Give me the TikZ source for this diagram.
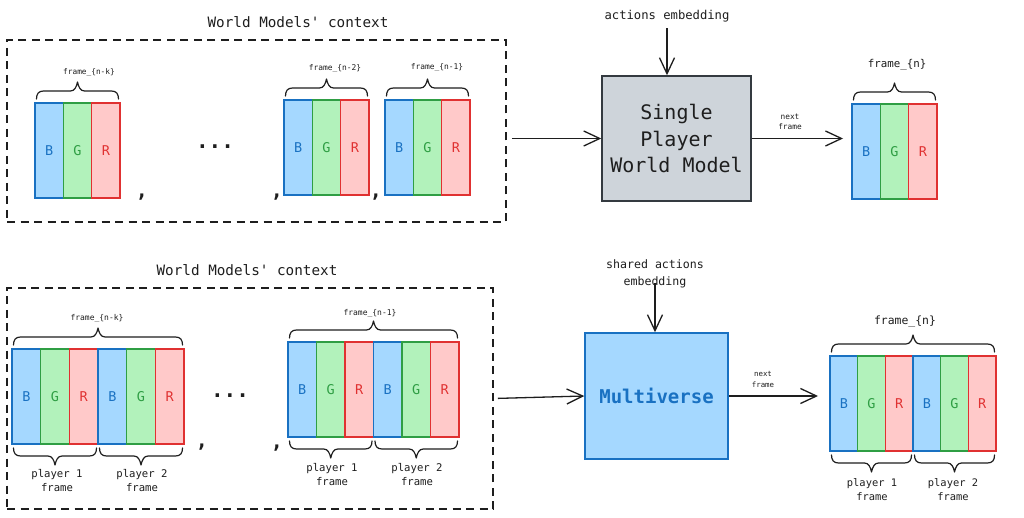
\documentclass[tikz,border=0pt]{standalone}
\usepackage{fontspec}
\setmonofont{DejaVu Sans Mono}
\usetikzlibrary{arrows.meta,calc}
\definecolor{bfill}{HTML}{A5D8FF}
\definecolor{bline}{HTML}{1971C2}
\definecolor{gfill}{HTML}{B2F2BB}
\definecolor{gline}{HTML}{2F9E44}
\definecolor{rfill}{HTML}{FFC9C9}
\definecolor{rline}{HTML}{E03131}
\definecolor{ink}{HTML}{1E1E1E}
\definecolor{grayfill}{HTML}{CED4DA}
\definecolor{grayline}{HTML}{343A40}
\newcommand\setfs[2]{\fontsize{#1}{#2}\selectfont}
\tikzset{
  strip/.style={anchor=north west, outer sep=0pt, inner sep=0pt, minimum height=95pt,
    line width=1.5pt, font=\ttfamily\setfs{13.5}{15}},
  stripb/.style={strip, draw=bline, fill=bfill, text=bline},
  stripg/.style={strip, draw=gline, fill=gfill, text=gline},
  stripr/.style={strip, draw=rline, fill=rfill, text=rline},
  lbl/.style={inner sep=0pt, text=ink, align=center},
  ctxbox/.style={draw=ink, line width=1.6pt, dash pattern=on 8pt off 5.5pt},
  arr/.style={draw=ink, line width=1.3pt, -{Straight Barb[length=16pt,width=15pt,line width=1.3pt]}},
  bracestyle/.style={draw=ink, line width=1.2pt, line cap=round, line join=round},
  sepcomma/.style={inner sep=0pt, text=ink, font=\ttfamily\bfseries\setfs{20}{20}},
  dotsnode/.style={inner sep=0pt, text=ink, font=\ttfamily\bfseries\setfs{21}{21}},
}
\newcommand\bgrone[3]{%
  \node[stripb, minimum width=#3pt] (#1b) at #2 {B};
  \node[stripg, minimum width=#3pt] (#1g) at (#1b.north east) {G};
  \node[stripr, minimum width=#3pt] (#1r) at (#1g.north east) {R};}
% #1 left anchor, #2 right anchor, #3 = 1 (tip up) or -1 (tip down)
\newcommand\brc[3]{%
  \draw[bracestyle] let \p1=([yshift=#3*4pt, xshift=1.5pt]#1), \p2=([yshift=#3*4pt, xshift=-1.5pt]#2),
     \n1={0.5*\x1+0.5*\x2}, \n2={#3*5}, \n3={#3*8}, \n4={#3*12}, \n5={#3*17} in
   ({\x1},{\y1}) .. controls ({\x1},{\y1+\n2}) and ({\x1+2pt},{\y1+\n3}) .. ({\x1+7pt},{\y1+\n3})
   -- ({\n1-7pt},{\y1+\n3})
   .. controls ({\n1-3pt},{\y1+\n3}) and ({\n1-1pt},{\y1+\n4}) .. ({\n1},{\y1+\n5})
   .. controls ({\n1+1pt},{\y1+\n4}) and ({\n1+3pt},{\y1+\n3}) .. ({\n1+7pt},{\y1+\n3})
   -- ({\x2-7pt},{\y1+\n3}) .. controls ({\x2-2pt},{\y1+\n3}) and ({\x2},{\y1+\n2}) .. ({\x2},{\y1});}
\begin{document}
\begin{tikzpicture}[x=1pt,y=-1pt]
\fill[white] (0,0) rectangle (1024,518);
\useasboundingbox (0,0) rectangle (1024,518);

% ---------------- top row ----------------
\node[lbl, font=\ttfamily\setfs{14.3}{17}] (title1) at (298,22) {World Models' context};
\node[ctxbox, minimum width=499pt, minimum height=182pt] (ctx1) at (256.5,131) {};

\bgrone{a}{(35,103)}{28.33}
\bgrone{b}{(284,100)}{28.33}
\bgrone{c}{(385,100)}{28.33}
\bgrone{d}{(852,104)}{28.33}

\brc{ab.north west}{ar.north east}{1}
\brc{bb.north west}{br.north east}{1}
\brc{cb.north west}{cr.north east}{1}
\brc{db.north west}{dr.north east}{1}

\node[lbl, font=\ttfamily\setfs{7.8}{9}] (lnk) at (89,72) {frame\_\{n-k\}};
\node[lbl, font=\ttfamily\setfs{7.9}{9}] (ln2) at (335,68) {frame\_\{n-2\}};
\node[lbl, font=\ttfamily\setfs{7.9}{9}] (ln1) at (437,67) {frame\_\{n-1\}};
\node[lbl, font=\ttfamily\setfs{10.8}{12}] (lnn) at (897,65) {frame\_\{n\}};

\node[sepcomma] (cma) at (142,197) {,};
\node[dotsnode] (dta) at (215,147) {...};
\node[sepcomma] (cmb) at (277,197) {,};
\node[sepcomma] (cmc) at (376,197) {,};

\node[draw=grayline, fill=grayfill, line width=1.5pt, minimum width=149pt, minimum height=125pt,
  text=ink, align=center, font=\ttfamily\setfs{20}{26.5}] (spwm) at (676.5,138.5) {Single\\Player\\World Model};
\node[lbl, font=\ttfamily\setfs{12.2}{14}] (act) at (667,16) {actions embedding};
\node[lbl, font=\ttfamily\setfs{7.8}{10}] (nf1) at (790,122) {next\\frame};

\draw[arr, shorten <=5pt] (ctx1.east |- spwm.west) -- (spwm.west);
\draw[arr, shorten <=6pt] (act.south) -- (act.south |- spwm.north);
\draw[arr, shorten >=9pt] (spwm.east) -- (spwm.east -| db.west);

% ---------------- bottom row ----------------
\node[lbl, font=\ttfamily\setfs{14.3}{17}] (title2) at (247,270) {World Models' context};
\node[ctxbox, minimum width=486pt, minimum height=221pt] (ctx2) at (250,398.5) {};

\bgrone{e}{(12,349)}{28.67}
\bgrone{f}{(er.north east)}{28.67}
\bgrone{g}{(288,342)}{28.5}
\bgrone{h}{(gr.north east)}{28.5}
\bgrone{i}{(830,356)}{27.67}
\bgrone{j}{(ir.north east)}{27.67}

\brc{eb.north west}{fr.north east}{1}
\brc{gb.north west}{hr.north east}{1}
\brc{ib.north west}{jr.north east}{1}
\brc{eb.south west}{er.south east}{-1}
\brc{fb.south west}{fr.south east}{-1}
\brc{gb.south west}{gr.south east}{-1}
\brc{hb.south west}{hr.south east}{-1}
\brc{ib.south west}{ir.south east}{-1}
\brc{jb.south west}{jr.south east}{-1}

\node[lbl, font=\ttfamily\setfs{8}{9}] (lbk) at (97,318) {frame\_\{n-k\}};
\node[lbl, font=\ttfamily\setfs{8}{9}] (lb1) at (370,313) {frame\_\{n-1\}};
\node[lbl, font=\ttfamily\setfs{11.4}{13}] (lbn) at (905,322) {frame\_\{n\}};

\node[lbl, font=\ttfamily\setfs{10.6}{14}] (pa1) at (57,481) {player 1\\frame};
\node[lbl, font=\ttfamily\setfs{10.6}{14}] (pa2) at (142,481) {player 2\\frame};
\node[lbl, font=\ttfamily\setfs{10.6}{14}] (pb1) at (332,475) {player 1\\frame};
\node[lbl, font=\ttfamily\setfs{10.6}{14}] (pb2) at (417,475) {player 2\\frame};
\node[lbl, font=\ttfamily\setfs{10.4}{14}] (pc1) at (872,490) {player 1\\frame};
\node[lbl, font=\ttfamily\setfs{10.4}{14}] (pc2) at (953,490) {player 2\\frame};

\node[sepcomma] (cmd) at (202,447) {,};
\node[dotsnode] (dtb) at (230,396) {...};
\node[sepcomma] (cme) at (277,448) {,};

\node[draw=bline, fill=bfill, line width=1.5pt, minimum width=143pt, minimum height=126pt,
  text=bline, font=\ttfamily\bfseries\setfs{19}{22}] (mv) at (656.5,396) {Multiverse};
\node[lbl, font=\ttfamily\setfs{11.6}{17}] (sa) at (655,273.5) {shared actions\\embedding};
\node[lbl, font=\ttfamily\setfs{7.4}{11}] (nf2) at (763,379.5) {next\\frame};
\coordinate (sastart) at (655,283);

\draw[arr, shorten <=4pt] (ctx2.east) -- (mv.west);
\draw[arr] (sastart) -- (sastart |- mv.north);
\draw[arr, shorten >=12pt] (mv.east) -- (mv.east -| ib.west);
\end{tikzpicture}
\end{document}
